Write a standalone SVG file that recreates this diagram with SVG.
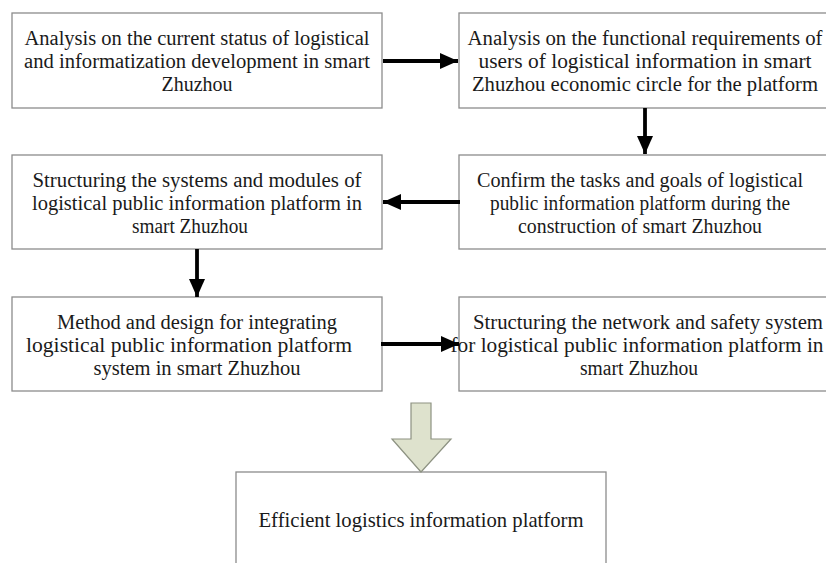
<svg xmlns="http://www.w3.org/2000/svg" width="826" height="563" viewBox="0 0 826 563">
  <style>
    .box { fill: #ffffff; stroke: #8c8c8c; stroke-width: 1.3; }
    .lbl { font-family: "Liberation Serif", "Times New Roman", serif; font-size: 20px; fill: #1a1a1a; text-anchor: middle; }
    .lbl.big-text { font-size: 22px; }
    .link { stroke: #000000; stroke-width: 3.8; fill: none; marker-end: url(#head); }
    .big { fill: #dee2cd; stroke: #8d9282; stroke-width: 1.2; }
  </style>
  <defs>
    <marker id="head" viewBox="0 0 18 16" refX="18" refY="8" markerWidth="18" markerHeight="16" markerUnits="userSpaceOnUse" orient="auto">
      <path d="M0,0 L18,8 L0,16 Z" fill="#000000"/>
    </marker>
  </defs>
  <rect width="826" height="563" fill="#ffffff"/>

  <g id="n1">
    <rect class="box" x="12" y="13" width="370" height="95"/>
    <text class="lbl" x="197" y="45" textLength="345" lengthAdjust="spacingAndGlyphs">Analysis on the current status of logistical</text>
    <text class="lbl" x="197" y="68" textLength="346" lengthAdjust="spacingAndGlyphs">and informatization development in smart</text>
    <text class="lbl" x="197" y="91" textLength="71" lengthAdjust="spacingAndGlyphs">Zhuzhou</text>
  </g>
  <g id="n2">
    <rect class="box" x="459" y="13" width="380" height="95"/>
    <text class="lbl" x="645" y="45" textLength="355" lengthAdjust="spacingAndGlyphs">Analysis on the functional requirements of</text>
    <text class="lbl" x="645" y="68" textLength="333" lengthAdjust="spacingAndGlyphs">users of logistical information in smart</text>
    <text class="lbl" x="645" y="91" textLength="346" lengthAdjust="spacingAndGlyphs">Zhuzhou economic circle for the platform</text>
  </g>
  <g id="n3">
    <rect class="box" x="459" y="155" width="380" height="94"/>
    <text class="lbl" x="640" y="187" textLength="326" lengthAdjust="spacingAndGlyphs">Confirm the tasks and goals of logistical</text>
    <text class="lbl" x="640" y="210" textLength="300" lengthAdjust="spacingAndGlyphs">public information platform during the</text>
    <text class="lbl" x="640" y="233" textLength="244" lengthAdjust="spacingAndGlyphs">construction of smart Zhuzhou</text>
  </g>
  <g id="n4">
    <rect class="box" x="12" y="155" width="370" height="94"/>
    <text class="lbl" x="197" y="187" textLength="329" lengthAdjust="spacingAndGlyphs">Structuring the systems and modules of</text>
    <text class="lbl" x="197" y="210" textLength="330" lengthAdjust="spacingAndGlyphs">logistical public information platform in</text>
    <text class="lbl" x="190" y="233" textLength="116" lengthAdjust="spacingAndGlyphs">smart Zhuzhou</text>
  </g>
  <g id="n5">
    <rect class="box" x="12" y="297" width="370" height="94"/>
    <text class="lbl" x="197" y="329" textLength="280" lengthAdjust="spacingAndGlyphs">Method and design for integrating</text>
    <text class="lbl" x="189" y="352" textLength="326" lengthAdjust="spacingAndGlyphs">logistical public information platform</text>
    <text class="lbl" x="197" y="375" textLength="207" lengthAdjust="spacingAndGlyphs">system in smart Zhuzhou</text>
  </g>
  <g id="n6">
    <rect class="box" x="459" y="297" width="380" height="94"/>
    <text class="lbl" x="648" y="329" textLength="350" lengthAdjust="spacingAndGlyphs">Structuring the network and safety system</text>
    <text class="lbl" x="637" y="352" textLength="373" lengthAdjust="spacingAndGlyphs">for logistical public information platform in</text>
    <text class="lbl" x="639" y="375" textLength="118" lengthAdjust="spacingAndGlyphs">smart Zhuzhou</text>
  </g>
  <g id="n7">
    <rect class="box" x="236" y="472" width="370" height="110"/>
    <text class="lbl big-text" x="421" y="527" textLength="325" lengthAdjust="spacingAndGlyphs">Efficient logistics information platform</text>
  </g>

  <g id="connectors">
    <path class="link" d="M383,61 H458"/>
    <path class="link" d="M645,108 V154"/>
    <path class="link" d="M460,202 H383"/>
    <path class="link" d="M197,249 V297"/>
    <path class="link" d="M381,344 H459"/>
    <path class="big" d="M411,403 H431 V439 H451 L421,472 L392,439 H411 Z"/>
  </g>
</svg>
